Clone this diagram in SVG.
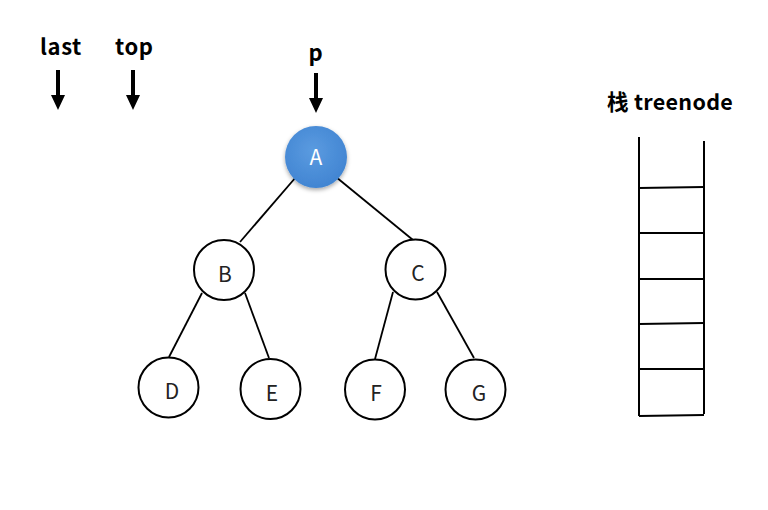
<svg xmlns="http://www.w3.org/2000/svg" width="768" height="510" viewBox="0 0 768 510">
<style>
.lbl{font-family:"Noto Sans CJK SC","Open Sans","DejaVu Sans",sans-serif;font-weight:bold;font-size:22px;letter-spacing:0.6px;fill:#000}
.nt{font-family:"Noto Sans CJK SC","Open Sans","DejaVu Sans",sans-serif;font-size:21px;fill:#222;text-anchor:middle}
.node{fill:#fff;stroke:#000;stroke-width:2}
.edge{stroke:#000;stroke-width:1.8;fill:none}
.stk{stroke:#000;stroke-width:2;fill:none}
</style>
<defs>
<radialGradient id="gA" cx="0.45" cy="0.4" r="0.65">
<stop offset="0" stop-color="#5b9be0"/>
<stop offset="1" stop-color="#3f83d1"/>
</radialGradient>
<filter id="sh" x="-30%" y="-30%" width="160%" height="160%">
<feDropShadow dx="0" dy="2" stdDeviation="2" flood-color="#000" flood-opacity="0.35"/>
</filter>
</defs>
<g id="labels">
<text class="lbl" x="40" y="55">last</text>
<text class="lbl" x="115" y="55">top</text>
<text class="lbl" x="316" y="61" text-anchor="middle">p</text>
<text class="lbl" x="607" y="110" style="letter-spacing:0.3px;font-size:21.5px">栈 treenode</text>
</g>
<g id="pointers">
<path d="M58,70 V96" stroke="#000" stroke-width="4" fill="none"/>
<path d="M51,95 L65,95 L58,110 Z" fill="#000"/>
<path d="M133,70 V96" stroke="#000" stroke-width="4" fill="none"/>
<path d="M126,95 L140,95 L133,110 Z" fill="#000"/>
<path d="M316,73 V99" stroke="#000" stroke-width="4" fill="none"/>
<path d="M309,98 L323,98 L316,113 Z" fill="#000"/>
</g>
<g id="connectors">
<line class="edge" x1="296" y1="177" x2="240" y2="242"/>
<line class="edge" x1="336" y1="177" x2="413" y2="240"/>
<line class="edge" x1="202" y1="293" x2="169" y2="357"/>
<line class="edge" x1="245" y1="293" x2="269" y2="358"/>
<line class="edge" x1="393" y1="292" x2="375" y2="359"/>
<line class="edge" x1="437" y1="292" x2="474" y2="358"/>
</g>
<g id="node-A">
<circle cx="316" cy="157" r="31" fill="url(#gA)" filter="url(#sh)"/>
<text class="nt" x="316" y="165" style="fill:#fff">A</text>
</g>
<g id="node-B">
<circle class="node" cx="224" cy="270" r="30"/>
<text class="nt" x="225" y="282">B</text>
</g>
<g id="node-C">
<circle class="node" cx="415.5" cy="269.5" r="30"/>
<text class="nt" x="418" y="281">C</text>
</g>
<g id="node-D">
<circle class="node" cx="168.5" cy="387.5" r="30"/>
<text class="nt" x="172" y="399">D</text>
</g>
<g id="node-E">
<circle class="node" cx="270.5" cy="389" r="30"/>
<text class="nt" x="272" y="401">E</text>
</g>
<g id="node-F">
<circle class="node" cx="375" cy="389.5" r="30"/>
<text class="nt" x="376" y="401">F</text>
</g>
<g id="node-G">
<circle class="node" cx="475.5" cy="389.5" r="30"/>
<text class="nt" x="479" y="401">G</text>
</g>
<g id="stack">
<line class="stk" x1="639" y1="137" x2="639" y2="416"/>
<line class="stk" x1="704" y1="141" x2="704" y2="414"/>
<line class="stk" x1="639" y1="188" x2="704" y2="187"/>
<line class="stk" x1="639" y1="233" x2="704" y2="233"/>
<line class="stk" x1="639" y1="279" x2="704" y2="279"/>
<line class="stk" x1="639" y1="324" x2="704" y2="323"/>
<line class="stk" x1="639" y1="369" x2="704" y2="369"/>
<line class="stk" x1="639" y1="416" x2="704" y2="415"/>
</g>
</svg>
